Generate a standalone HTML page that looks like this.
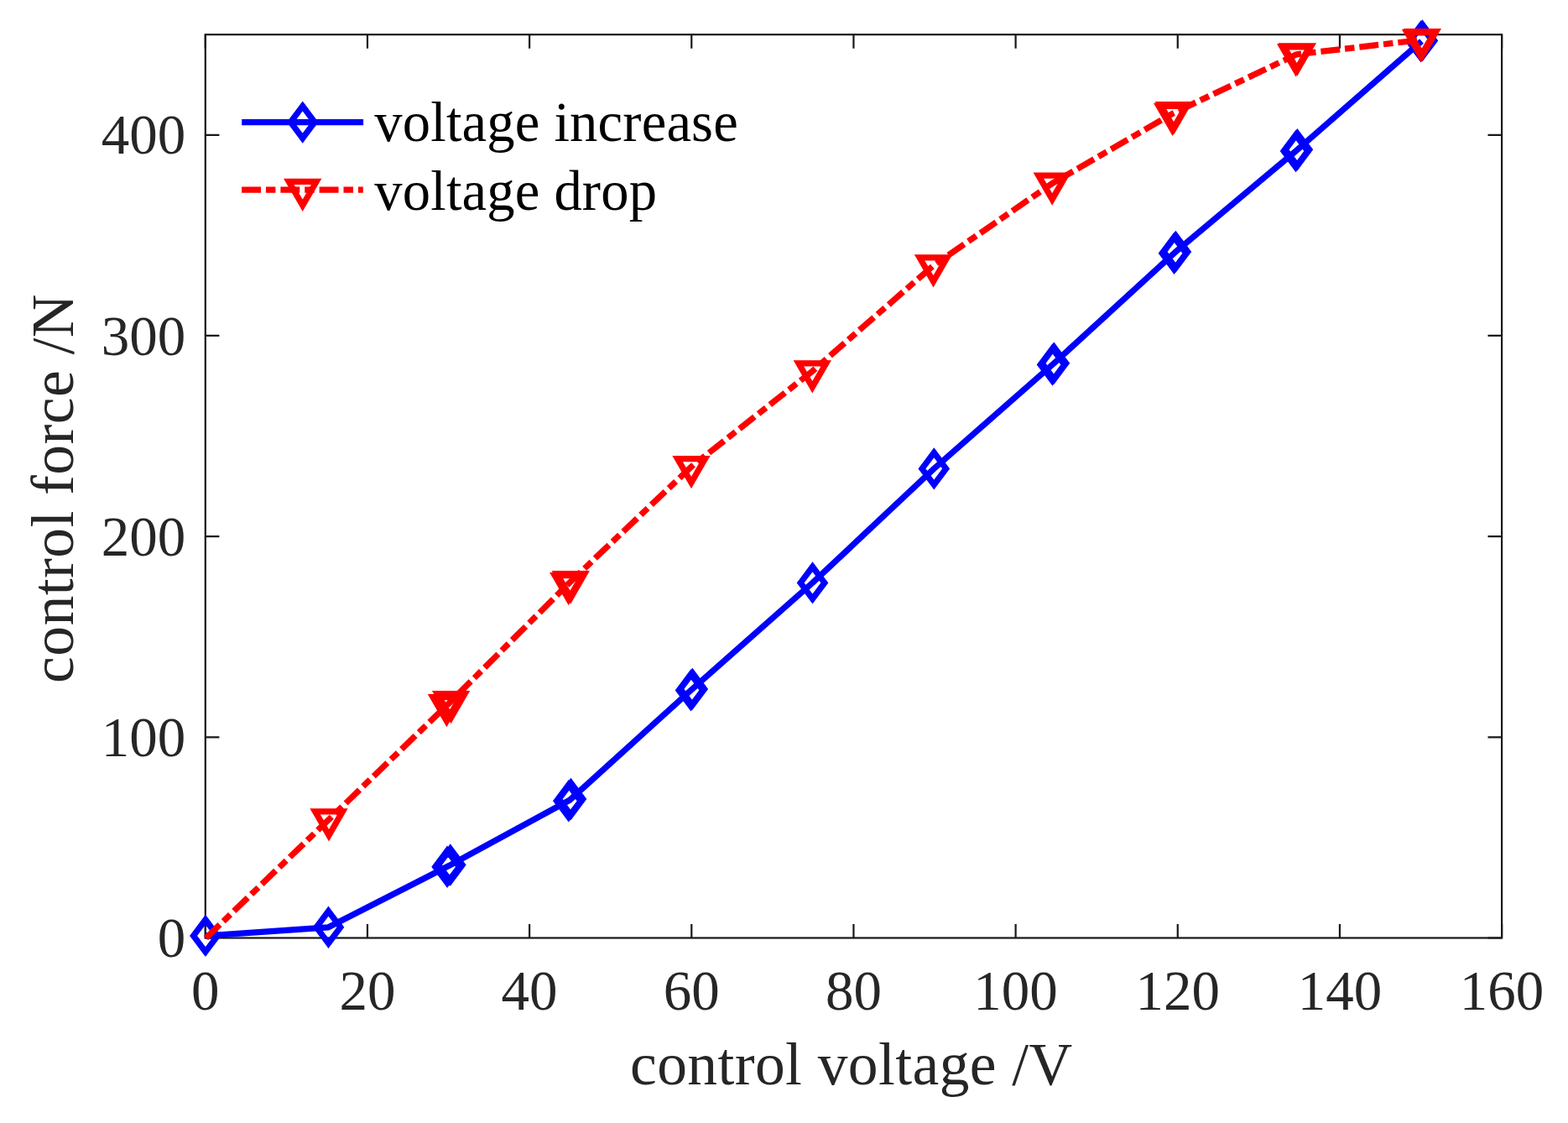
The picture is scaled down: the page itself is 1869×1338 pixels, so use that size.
<!DOCTYPE html>
<html><head><meta charset="utf-8"><title>control force vs control voltage</title>
<style>html,body{margin:0;padding:0;background:#fff;}svg{display:block;}text{font-family:"Liberation Serif","Times New Roman",serif;}</style></head>
<body>
<svg width="1869" height="1338" viewBox="0 0 1869 1338">
<rect x="0" y="0" width="1869" height="1338" fill="#fff"/>
<rect x="244.8" y="41.2" width="1545.30" height="1076.30" fill="none" stroke="#181818" stroke-width="2.2"/>
<path d="M244.80 1117.50V1100.90M244.80 41.20V57.80M437.96 1117.50V1100.90M437.96 41.20V57.80M631.12 1117.50V1100.90M631.12 41.20V57.80M824.29 1117.50V1100.90M824.29 41.20V57.80M1017.45 1117.50V1100.90M1017.45 41.20V57.80M1210.61 1117.50V1100.90M1210.61 41.20V57.80M1403.77 1117.50V1100.90M1403.77 41.20V57.80M1596.94 1117.50V1100.90M1596.94 41.20V57.80M1790.10 1117.50V1100.90M1790.10 41.20V57.80M244.80 1117.50H261.40M1790.10 1117.50H1773.50M244.80 878.32H261.40M1790.10 878.32H1773.50M244.80 639.14H261.40M1790.10 639.14H1773.50M244.80 399.97H261.40M1790.10 399.97H1773.50M244.80 160.79H261.40M1790.10 160.79H1773.50" fill="none" stroke="#181818" stroke-width="2.2"/>
<g font-size="67" fill="#262626">
<text x="244.80" y="1202.8" text-anchor="middle">0</text>
<text x="437.96" y="1202.8" text-anchor="middle">20</text>
<text x="631.12" y="1202.8" text-anchor="middle">40</text>
<text x="824.29" y="1202.8" text-anchor="middle">60</text>
<text x="1017.45" y="1202.8" text-anchor="middle">80</text>
<text x="1210.61" y="1202.8" text-anchor="middle">100</text>
<text x="1403.77" y="1202.8" text-anchor="middle">120</text>
<text x="1596.94" y="1202.8" text-anchor="middle">140</text>
<text x="1790.10" y="1202.8" text-anchor="middle">160</text>
<text x="221.2" y="1140.10" text-anchor="end">0</text>
<text x="221.2" y="900.92" text-anchor="end">100</text>
<text x="221.2" y="661.74" text-anchor="end">200</text>
<text x="221.2" y="422.57" text-anchor="end">300</text>
<text x="221.2" y="183.39" text-anchor="end">400</text>
</g>
<text x="1014.8" y="1292.2" text-anchor="middle" font-size="71.5" letter-spacing="0.41" fill="#262626">control voltage /V</text>
<text transform="translate(87.0 582) rotate(-90)" x="0" y="0" text-anchor="middle" font-size="71.5" letter-spacing="0.45" fill="#262626">control force /N</text>
<polyline points="244.90,1114.90 391.50,1104.80 535.00,1031.60 679.10,953.20 824.40,821.60 968.50,694.40 1113.30,558.40 1255.40,433.60 1400.40,300.80 1545.40,179.20 1694.50,48.90" fill="none" stroke="#00f" stroke-width="7.25" stroke-linejoin="round"/>
<path d="M244.90 1095.75L259.20 1114.90L244.90 1134.05L230.60 1114.90ZM391.50 1085.65L405.80 1104.80L391.50 1123.95L377.20 1104.80ZM536.80 1011.35L551.10 1030.50L536.80 1049.65L522.50 1030.50ZM533.10 1013.65L547.40 1032.80L533.10 1051.95L518.80 1032.80ZM680.50 932.85L694.80 952.00L680.50 971.15L666.20 952.00ZM677.80 935.15L692.10 954.30L677.80 973.45L663.50 954.30ZM825.30 801.75L839.60 820.90L825.30 840.05L811.00 820.90ZM823.50 803.25L837.80 822.40L823.50 841.55L809.20 822.40ZM968.50 675.25L982.80 694.40L968.50 713.55L954.20 694.40ZM1113.30 539.25L1127.60 558.40L1113.30 577.55L1099.00 558.40ZM1256.40 413.65L1270.70 432.80L1256.40 451.95L1242.10 432.80ZM1254.50 415.35L1268.80 434.50L1254.50 453.65L1240.20 434.50ZM1401.40 280.75L1415.70 299.90L1401.40 319.05L1387.10 299.90ZM1399.50 282.65L1413.80 301.80L1399.50 320.95L1385.20 301.80ZM1546.40 159.15L1560.70 178.30L1546.40 197.45L1532.10 178.30ZM1544.50 160.85L1558.80 180.00L1544.50 199.15L1530.20 180.00ZM1695.40 29.25L1709.70 48.40L1695.40 67.55L1681.10 48.40ZM1693.60 30.25L1707.90 49.40L1693.60 68.55L1679.30 49.40Z" fill="none" stroke="#00f" stroke-width="7.25" stroke-linejoin="miter" stroke-miterlimit="10"/>
<polyline points="245.50,1117.60 392.00,976.40 535.00,838.10 679.00,694.10 824.00,556.10 968.30,442.30 1112.50,316.40 1254.20,218.50 1398.50,134.90 1545.50,64.80 1694.40,47.50" fill="none" stroke="#f00" stroke-width="7.25" stroke-linejoin="round" stroke-dasharray="22.9 5.95 11.48 5.95"/>
<path d="M375.61 966.93L408.39 966.93L392.00 995.33ZM521.21 826.63L553.99 826.63L537.60 855.03ZM516.01 830.63L548.79 830.63L532.40 859.03ZM663.91 683.74L696.69 683.74L680.30 712.13ZM661.31 685.63L694.09 685.63L677.70 714.03ZM807.61 546.63L840.39 546.63L824.00 575.03ZM951.91 432.84L984.69 432.84L968.30 461.23ZM1096.11 306.94L1128.89 306.94L1112.50 335.33ZM1237.81 209.03L1270.59 209.03L1254.20 237.43ZM1383.01 124.53L1415.79 124.53L1399.40 152.93ZM1381.21 126.34L1413.99 126.34L1397.60 154.73ZM1530.01 54.83L1562.79 54.83L1546.40 83.23ZM1528.21 55.83L1560.99 55.83L1544.60 84.23ZM1678.91 37.53L1711.69 37.53L1695.30 65.93ZM1677.11 38.53L1709.89 38.53L1693.50 66.93Z" fill="none" stroke="#f00" stroke-width="7.25" stroke-linejoin="miter" stroke-miterlimit="10"/>
<path d="M288.2 145.6H433.1" stroke="#00f" stroke-width="7.25" fill="none"/>
<path d="M360.70 126.45L375.00 145.60L360.70 164.75L346.40 145.60Z" stroke="#00f" stroke-width="7.25" fill="none" stroke-miterlimit="10"/>
<path d="M288.1 226.07H432.8" stroke="#f00" stroke-width="7.25" fill="none" stroke-dasharray="22.9 5.95 11.48 5.95"/>
<path d="M344.31 216.47L377.09 216.47L360.70 244.87Z" stroke="#f00" stroke-width="7.25" fill="none" stroke-miterlimit="10"/>
<g font-size="66.6" letter-spacing="0.18" fill="#000">
<text x="446.3" y="168.4">voltage increase</text>
<text x="446.3" y="249.6">voltage drop</text>
</g>
</svg>
</body></html>
